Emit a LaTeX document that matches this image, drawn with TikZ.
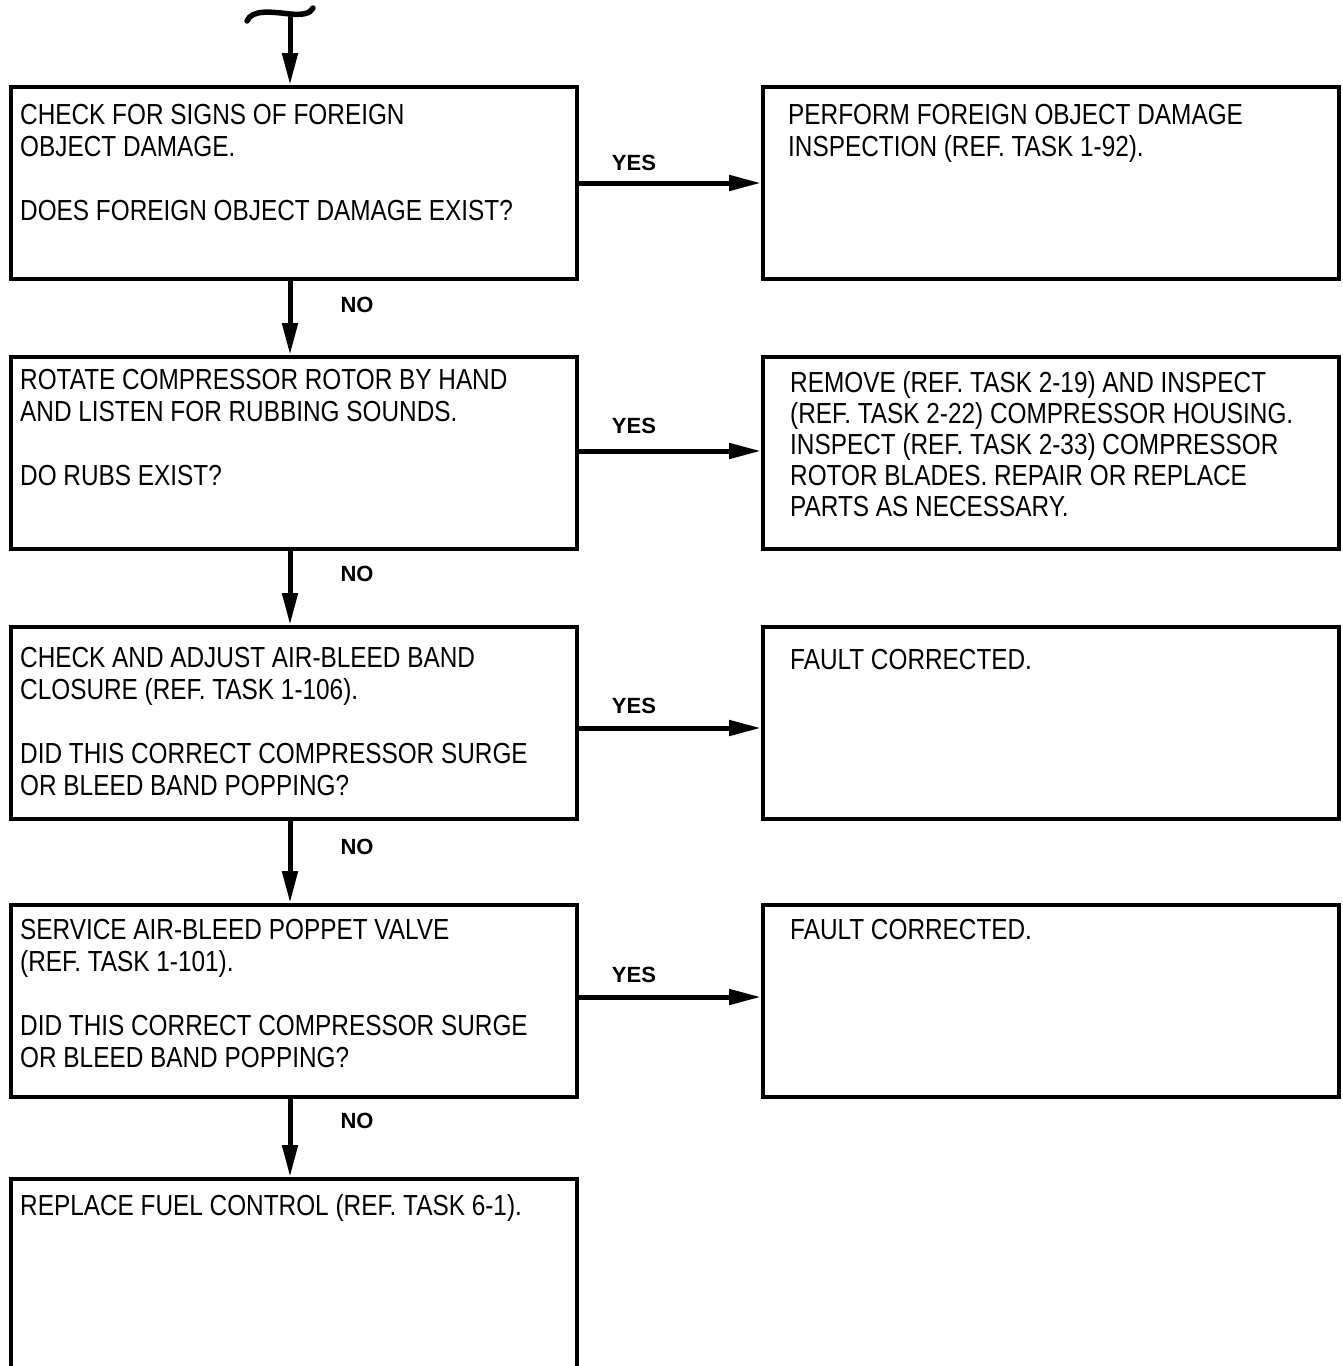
\documentclass[tikz,border=0pt]{standalone}
\usepackage{fontspec}
\setmainfont[FakeStretch=0.84]{Liberation Sans}
\newfontfamily\lblfont{Liberation Sans}
\usetikzlibrary{arrows.meta}
\begin{document}
\begin{tikzpicture}[x=1pt,y=-1pt,
  box/.style={draw,line width=4pt,rectangle,minimum width=566pt,minimum height=192pt,anchor=north west,inner sep=0pt},
  rbox/.style={box,minimum width=576pt},
  txt/.style={anchor=north west,inner sep=0pt,align=left,font=\fontsize{29}{32}\selectfont},
  lbl/.style={font=\lblfont\bfseries\fontsize{22}{26}\selectfont,inner sep=0pt},
  flow/.style={line width=5pt,-{Triangle[length=32pt,width=15pt]}}]
\useasboundingbox (0,0) rectangle (1342,1366);
\clip (0,0) rectangle (1342,1366);
\fill[white] (0,0) rectangle (1342,1366);
% left boxes
\node[box] (b1) at (9,85) {};
\node[box] (b2) at (9,355) {};
\node[box] (b3) at (9,625) {};
\node[box] (b4) at (9,903) {};
\node[box,minimum height=220pt] (b5) at (9,1177) {};
% right boxes
\node[rbox] (r1) at (761,85) {};
\node[rbox] (r2) at (761,355) {};
\node[rbox] (r3) at (761,625) {};
\node[rbox] (r4) at (761,903) {};
% texts
\node[txt] (t1) at (20,104) {CHECK FOR SIGNS OF FOREIGN\\OBJECT DAMAGE.\\[32pt]DOES FOREIGN OBJECT DAMAGE EXIST?};
\node[txt] (t2) at (20,369) {ROTATE COMPRESSOR ROTOR BY HAND\\AND LISTEN FOR RUBBING SOUNDS.\\[32pt]DO RUBS EXIST?};
\node[txt] (t3) at (20,647) {CHECK AND ADJUST AIR-BLEED BAND\\CLOSURE (REF. TASK 1-106).\\[32pt]DID THIS CORRECT COMPRESSOR SURGE\\OR BLEED BAND POPPING?};
\node[txt] (t4) at (20,919) {SERVICE AIR-BLEED POPPET VALVE\\(REF. TASK 1-101).\\[32pt]DID THIS CORRECT COMPRESSOR SURGE\\OR BLEED BAND POPPING?};
\node[txt] (t5) at (20,1194) {REPLACE FUEL CONTROL (REF. TASK 6-1).};
\node[txt] (u1) at (788,104) {PERFORM FOREIGN OBJECT DAMAGE\\INSPECTION (REF. TASK 1-92).};
\node[txt,font=\fontsize{29}{31}\selectfont] (u2) at (790,371) {REMOVE (REF. TASK 2-19) AND INSPECT\\(REF. TASK 2-22) COMPRESSOR HOUSING.\\INSPECT (REF. TASK 2-33) COMPRESSOR\\ROTOR BLADES. REPAIR OR REPLACE\\PARTS AS NECESSARY.};
\node[txt] (u3) at (790,649) {FAULT CORRECTED.};
\node[txt] (u4) at (790,919) {FAULT CORRECTED.};
% entry
\coordinate (s0) at (290,14);
\draw[line width=5.5pt,line cap=round] (247,21) .. controls (252,9) and (272,12) .. (290,14) .. controls (302,15) and (310,14) .. (313,8);
\draw[flow] (s0) -- (290,85);
% down arrows
\draw[flow] (b1.south -| s0) -- (b2.north -| s0);
\draw[flow] (b2.south -| s0) -- (b3.north -| s0);
\draw[flow] (b3.south -| s0) -- (b4.north -| s0);
\draw[flow] (b4.south -| s0) -- (b5.north -| s0);
\node[lbl] (n1) at (357,305) {NO};
\node[lbl] (n2) at (357,574) {NO};
\node[lbl] (n3) at (357,847) {NO};
\node[lbl] (n4) at (357,1121) {NO};
% yes arrows
\draw[flow] (575,183) -- (r1.west |- 0,183);
\draw[flow] (575,451) -- (r2.west |- 0,451);
\draw[flow] (575,728) -- (r3.west |- 0,728);
\draw[flow] (575,997) -- (r4.west |- 0,997);
\node[lbl] (y1) at (634,163) {YES};
\node[lbl] (y2) at (634,426) {YES};
\node[lbl] (y3) at (634,706) {YES};
\node[lbl] (y4) at (634,975) {YES};
\end{tikzpicture}
\end{document}
